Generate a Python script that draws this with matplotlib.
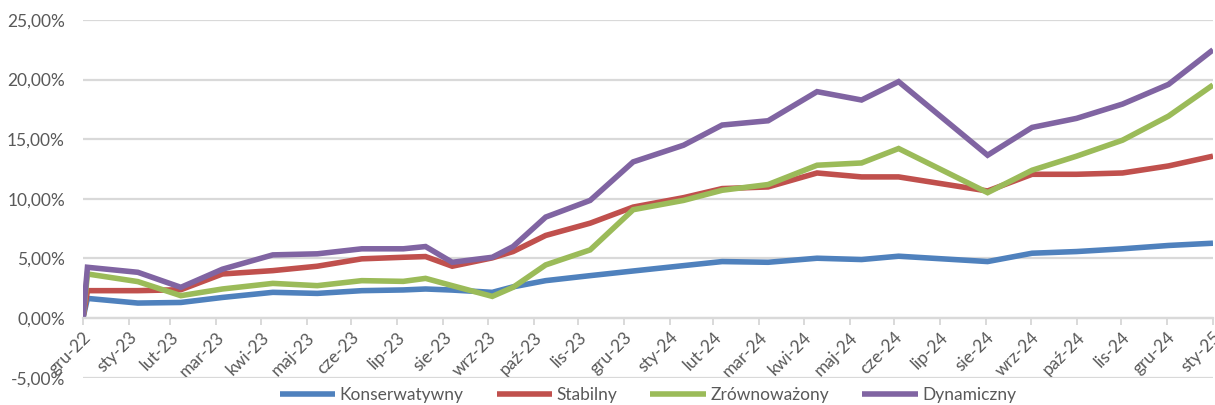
import matplotlib
matplotlib.use('Agg')
import matplotlib.pyplot as plt
import pandas as pd

plt.rcParams['font.family'] = ['Lato', 'DejaVu Sans']

# valuation dates and cumulative returns (%)
dates = ['2022-12-31', '2023-01-03', '2023-02-06', '2023-03-07', '2023-04-04',
         '2023-05-08', '2023-06-07', '2023-07-07', '2023-08-04', '2023-08-19',
         '2023-09-06', '2023-10-03', '2023-10-17', '2023-11-08', '2023-12-08',
         '2024-01-06', '2024-02-09', '2024-03-06', '2024-04-06', '2024-05-09',
         '2024-06-08', '2024-07-03', '2024-09-01', '2024-10-01', '2024-10-31',
         '2024-12-01', '2025-01-01', '2025-01-31']

konserwatywny = [0.0, 1.65, 1.26, 1.31, 1.73, 2.16, 2.07, 2.30, 2.36, 2.44,
                 2.35, 2.16, 2.62, 3.14, 3.56, 3.95, 4.40, 4.74, 4.68, 5.02,
                 4.91, 5.19, 4.74, 5.44, 5.58, 5.81, 6.09, 6.28]
stabilny = [0.0, 2.30, 2.30, 2.38, 3.70, 3.98, 4.35, 4.97, 5.10, 5.16,
            4.35, 5.05, 5.58, 6.93, 7.96, 9.31, 10.10, 10.86, 11.00, 12.17,
            11.84, 11.84, 10.66, 12.06, 12.06, 12.17, 12.76, 13.58]
zrownowazony = [0.0, 3.70, 3.06, 1.88, 2.44, 2.91, 2.72, 3.14, 3.08, 3.33,
                2.72, 1.82, 2.58, 4.46, 5.72, 9.09, 9.87, 10.72, 11.20, 12.82,
                13.01, 14.22, 10.52, 12.40, 13.58, 14.92, 16.94, 19.55]
dynamiczny = [0.0, 4.26, 3.84, 2.58, 4.10, 5.30, 5.39, 5.81, 5.81, 6.00,
              4.68, 5.10, 6.00, 8.47, 9.87, 13.10, 14.50, 16.19, 16.55, 18.99,
              18.29, 19.83, 13.66, 15.99, 16.75, 17.95, 19.60, 22.50]

series_names = ['Konserwatywny', 'Stabilny', 'Zrównoważony', 'Dynamiczny']
colors = ['#4f81bd', '#c0504d', '#9bbb59', '#8064a2']

month_labels = ['gru-22', 'sty-23', 'lut-23', 'mar-23', 'kwi-23', 'maj-23',
                'cze-23', 'lip-23', 'sie-23', 'wrz-23', 'paź-23', 'lis-23',
                'gru-23', 'sty-24', 'lut-24', 'mar-24', 'kwi-24', 'maj-24',
                'cze-24', 'lip-24', 'sie-24', 'wrz-24', 'paź-24', 'lis-24',
                'gru-24', 'sty-25']
y_ticks = [-5, 0, 5, 10, 15, 20, 25]
y_labels = ['-5,00%', '0,00%', '5,00%', '10,00%', '15,00%', '20,00%', '25,00%']

x = pd.to_datetime(dates)
month_ends = pd.date_range('2022-12-31', periods=len(month_labels), freq='ME')

grid_c = '#d9d9d9'
text_c = '#595959'

fig = plt.figure(figsize=(12.15, 4.05), dpi=100)
ax = fig.add_axes([83/1215, 1 - 377.7/405, 1130/1215, 357.7/405])

all_series = [konserwatywny, stabilny, zrownowazony, dynamiczny]
for vals, name, c in zip(all_series, series_names, colors):
    ax.plot(x, vals, color=c, lw=4.0, label=name, solid_joinstyle='miter',
            solid_capstyle='butt')

ax.set_ylim(-5, 25)
ax.set_xlim(month_ends[0], month_ends[-1])
ax.set_yticks(y_ticks)
ax.set_yticklabels(y_labels)
ax.yaxis.grid(True, color=grid_c, lw=1.6)
ax.set_axisbelow(True)

ax.set_xticks(month_ends)
ax.set_xticklabels(month_labels)

for s in ['top', 'right', 'left']:
    ax.spines[s].set_visible(False)
ax.spines['bottom'].set_position(('data', 0))
ax.spines['bottom'].set_color(grid_c)
ax.spines['bottom'].set_linewidth(1.6)

ax.tick_params(axis='y', length=0, pad=13, labelsize=12.5, labelcolor=text_c)
ax.tick_params(axis='x', length=5, width=1.4, color=grid_c, pad=3,
               labelsize=12.5, labelcolor=text_c, labelrotation=45)

fig.legend(loc='center', bbox_to_anchor=(648/1215, 1 - 395/405), ncol=4,
           frameon=False, fontsize=12.5, labelcolor=text_c, handlelength=3.2,
           handletextpad=0.25, columnspacing=1.9, borderaxespad=0)

fig.canvas.draw()
for lbl in ax.get_xticklabels():
    lbl.set_horizontalalignment('right')
    lbl.set_verticalalignment('top')
    lbl.set_rotation_mode('anchor')

fig.savefig('out.png', dpi=100)
